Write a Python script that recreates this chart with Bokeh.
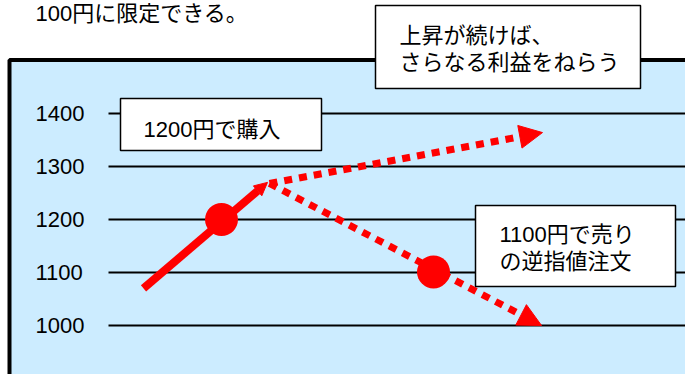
from bokeh.plotting import figure
from bokeh.models import Range1d, BoxAnnotation, Label, Arrow, NormalHead, ColumnDataSource
from bokeh.core.properties import value
from bokeh.embed import file_html
from bokeh.resources import INLINE

# ---- data (time steps, price in yen) ----
price_ticks = [1000, 1100, 1200, 1300, 1400]
tick_labels = ["1000", "1100", "1200", "1300", "1400"]

rise_t = [14.3, 26.7]          # solid rise up to the turning point
rise_price = [1070, 1270]

buy_t = [22.1]
buy_price = [1200]

branch_t_start = [26.9, 26.9]  # dotted scenarios after the turning point
branch_p_start = [1268, 1268]
branch_t_end = [54.2, 54.1]
branch_p_end = [1364, 1000]

sell_t = [43.3]
sell_price = [1101]

RED = "#FF0000"
BLUE = "#CCECFF"
JP = "Liberation Sans, Noto Sans CJK JP"

X_MIN, X_MAX = 0, 68.5
p = figure(width=685, height=374, x_range=Range1d(X_MIN, X_MAX), y_range=Range1d(907.5, 1613.2),
           x_axis_type=None, y_axis_type=None, toolbar_location=None, output_backend="svg",
           min_border=0, title=None, background_fill_color="white",
           border_fill_color="white", outline_line_color=None)

# light-blue panel with black frame (left/top edges visible)
p.add_layout(BoxAnnotation(left=0.9, right=X_MAX + 10, top=1501, bottom=800,
                           fill_color=BLUE, fill_alpha=1, line_color="black", line_alpha=1,
                           line_width=4, level="image"))

# horizontal price grid lines
grid_start = 10.8
p.segment(x0=[grid_start] * len(price_ticks), y0=price_ticks,
          x1=[X_MAX + 1] * len(price_ticks), y1=price_ticks,
          line_color="black", line_width=2)

# tick labels
p.text(x=[3.5] * len(price_ticks), y=price_ticks, text=tick_labels, text_align="left",
       text_baseline="middle", text_font=value("Liberation Sans"), text_font_size="22px",
       text_color="black")

# sentence above the chart
p.text(x=[3.5], y=[1588.5], text=["100円に限定できる。"], text_align="left",
       text_baseline="alphabetic", text_font=value(JP), text_font_size="22px",
       text_color="black")

# solid rise with a small arrow head
rise_src = ColumnDataSource(dict(x0=[rise_t[0]], y0=[rise_price[0]], x1=[rise_t[1]], y1=[rise_price[1]]))
p.add_layout(Arrow(x_start="x0", y_start="y0", x_end="x1", y_end="y1", source=rise_src,
                   line_color=RED, line_width=8,
                   end=NormalHead(size=13, fill_color=RED, line_color=RED, line_width=1)))

# dotted scenarios
br_src = ColumnDataSource(dict(x0=branch_t_start, y0=branch_p_start, x1=branch_t_end, y1=branch_p_end))
p.add_layout(Arrow(x_start="x0", y_start="y0", x_end="x1", y_end="y1", source=br_src,
                   line_color=RED, line_width=7, line_dash="8 7",
                   end=NormalHead(size=23, fill_color=RED, line_color=RED, line_width=1)))

# buy / sell points
p.scatter(buy_t + sell_t, buy_price + sell_price, size=33, color=RED, line_color=None)

# callout boxes
boxes = [
    dict(l=12.0, r=32.1, t=1428.3, b=1330.2),
    dict(l=37.5, r=64.0, t=1603.8, b=1447.2),
    dict(l=47.5, r=67.5, t=1226.4, b=1073.6),
]
lines = [
    (14.3, 1369.8, "1200円で購入"),
    (39.9, 1548.1, "上昇が続けば、"),
    (39.9, 1496.2, "さらなる利益をねらう"),
    (49.9, 1171.7, "1100円で売り"),
    (49.9, 1120.7, "の逆指値注文"),
]
for b in boxes:
    p.add_layout(BoxAnnotation(left=b["l"], right=b["r"], top=b["t"], bottom=b["b"],
                               fill_color="white", fill_alpha=1, line_color="black",
                               line_alpha=1, line_width=1.5, level="overlay"))
for tx, ty, txt in lines:
    p.add_layout(Label(x=tx, y=ty, text=txt, text_align="left", text_baseline="middle",
                       text_font=JP, text_font_size="22px", text_color="black",
                       level="overlay"))

open("out.html", "w").write(file_html(p, INLINE))
